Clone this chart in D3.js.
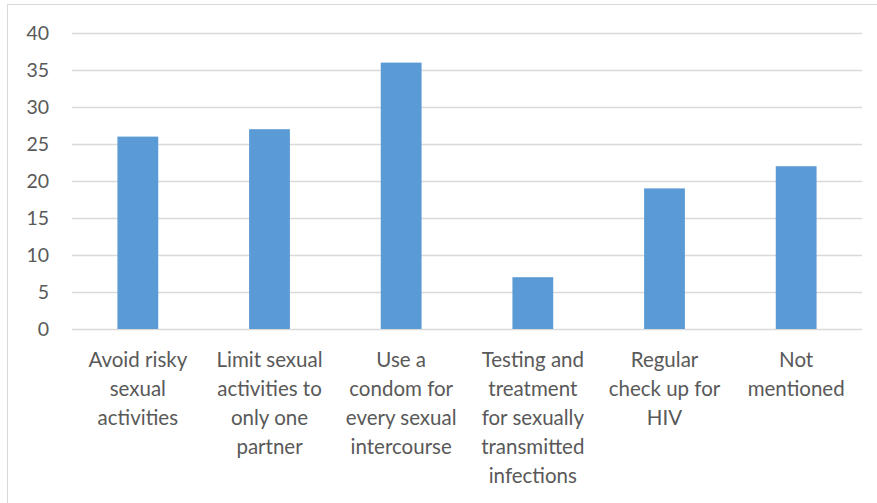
<!DOCTYPE html>
<html><head><meta charset="utf-8">
<script src="https://cdnjs.cloudflare.com/ajax/libs/d3/7.8.5/d3.min.js"></script>
<style>body{margin:0;background:#fff}svg{display:block}</style>
</head><body>
<svg id="c" width="877" height="503"></svg>
<script>
const categories = ["Avoid risky sexual activities","Limit sexual activities to only one partner","Use a condom for every sexual intercourse","Testing and treatment for sexually transmitted infections","Regular check up for HIV","Not mentioned"];
const labelLines = [["Avoid risky","sexual","activities"],["Limit sexual","activities to","only one","partner"],["Use a","condom for","every sexual","intercourse"],["Testing and","treatment","for sexually","transmitted","infections"],["Regular","check up for","HIV"],["Not","mentioned"]];
const values = [26,27,36,7,19,22];
const yTicks = [0,5,10,15,20,25,30,35,40];

const svg = d3.select("#c");
const font = "Lato, 'Open Sans', sans-serif";
svg.append("rect").attr("x",7.5).attr("y",4.5).attr("width",900).attr("height",520)
  .attr("fill","#fff").attr("stroke","#d9d9d9").attr("stroke-width",1);

const x = d3.scaleBand().domain(categories).range([72,862]).paddingInner(0.69).paddingOuter(0.345);
const y = d3.scaleLinear().domain([0,40]).range([329,33]);

svg.append("g").selectAll("line").data(yTicks).join("line")
  .attr("x1",72).attr("x2",862).attr("y1",d=>Math.round(y(d))+0.5).attr("y2",d=>Math.round(y(d))+0.5)
  .attr("stroke","#d9d9d9").attr("stroke-width",1.3);

svg.append("g").selectAll("text").data(yTicks).join("text")
  .attr("x",49).attr("y",d=>y(d)).attr("dy","0.35em").attr("text-anchor","end")
  .attr("font-family",font).attr("font-size",19.5).attr("fill","#595959").text(d=>d);

svg.append("g").selectAll("rect").data(values).join("rect")
  .attr("x",(d,i)=>x(categories[i])).attr("width",x.bandwidth())
  .attr("y",d=>y(d)).attr("height",d=>y(0)-y(d)).attr("fill","#5b9bd5");

const lg = svg.append("g");
categories.forEach((c,i)=>{
  const cx = x(c)+x.bandwidth()/2;
  const t = lg.append("text").attr("text-anchor","middle").attr("font-family",font)
    .attr("font-size",20.5).attr("fill","#595959");
  labelLines[i].forEach((l,j)=>{
    t.append("tspan").attr("x",cx).attr("y",367+j*29).text(l);
  });
});
</script>
</body></html>
